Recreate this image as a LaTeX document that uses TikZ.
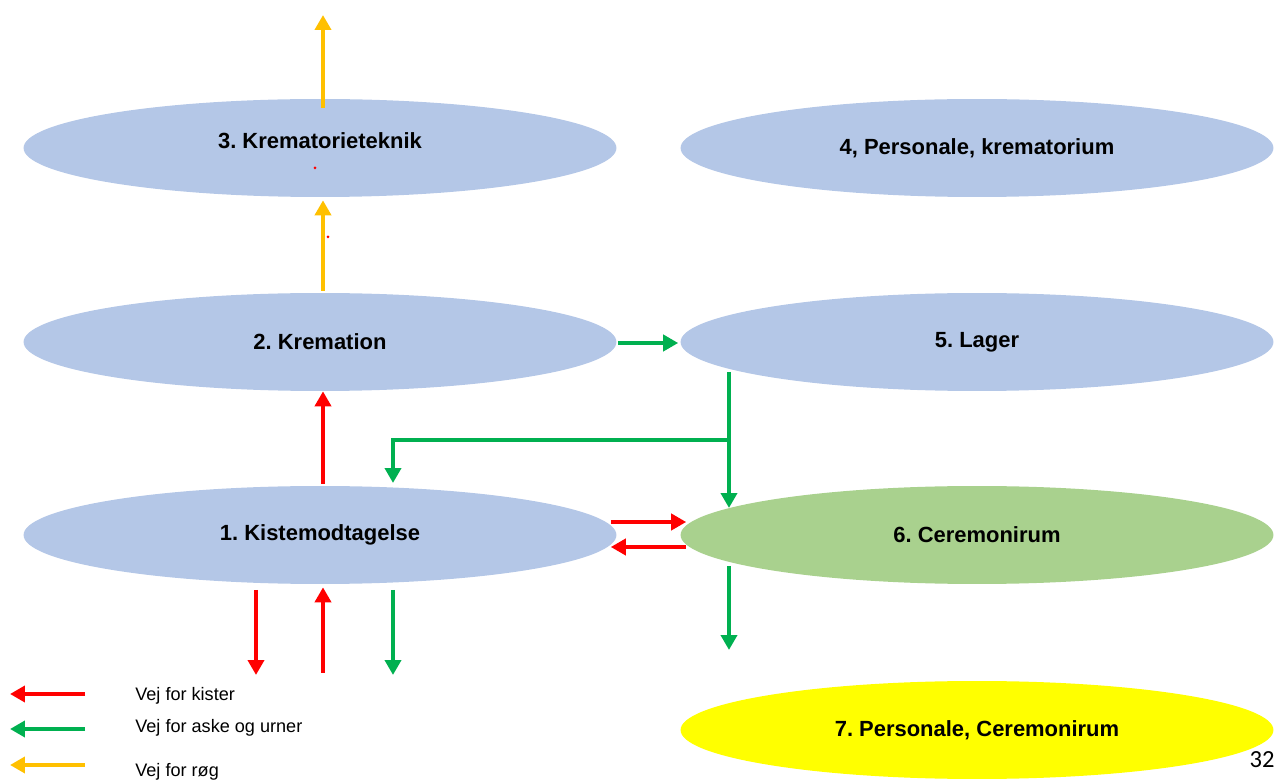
\documentclass[tikz,border=0pt]{standalone}
\usepackage{fontspec}
\setmainfont{Liberation Sans}
\setsansfont{Liberation Sans}
\newfontfamily\pagefont{Carlito}
\usetikzlibrary{arrows.meta,calc,shapes.geometric}
\definecolor{ovBlue}{HTML}{B4C7E7}
\definecolor{ovGreen}{HTML}{A9D18E}
\definecolor{ovYellow}{HTML}{FFFF00}
\definecolor{arRed}{HTML}{FF0000}
\definecolor{arGreen}{HTML}{00B050}
\definecolor{arOrange}{HTML}{FFC000}
\frenchspacing

\begin{document}
\begin{tikzpicture}[x=0.02cm, y=-0.02cm, font=\sffamily,
  room/.style={ellipse, fill=ovBlue, minimum width=11.86cm, minimum height=1.96cm, inner sep=0pt, align=center, font=\sffamily\fontsize{12.5}{14}\selectfont\bfseries},
  path/.style={line width=2.3pt, -{Triangle[length=0.3cm, width=0.32cm]}},
  kister/.style={path, arRed},
  urner/.style={path, arGreen},
  roeg/.style={path, arOrange},
  legtxt/.style={anchor=west, font=\sffamily\fontsize{10.3}{12}\selectfont, inner sep=0pt},
]
\useasboundingbox (0,0) rectangle (1279,780);
% ---- rooms ----
\node[room] (teknik) at (320,148) {3. Krematorieteknik\\[-5pt]\mbox{}};
\node[room] (personale) at (977,148) {4, Personale, krematorium};
\node[room] (kremation) at (320,342) {2. Kremation};
\node[room] (lager) at (977,342) {5. Lager};
\node[room] (kiste) at (320,535) {1. Kistemodtagelse};
\node[room, fill=ovGreen] (ceremoni) at (977,535) {6. Ceremonirum};
\node[room, fill=ovYellow] (cerpers) at (977,730) {7. Personale, Ceremonirum};
% stray dots
\fill[arRed] (315,168) circle (1.5);
\fill[arRed] (328,237) circle (1.5);
% ---- smoke ----
\coordinate (chimney) at (323,15);
\draw[roeg] ($(teknik.north)+(3,9)$) -- (chimney);
\draw[roeg] ($(kremation.north)+(3,-2)$) -- ($(teknik.south)+(3,3)$);
% ---- coffins ----
\draw[kister] ($(kiste.north)+(3,-2)$) -- ($(kremation.south)+(3,0)$);
\draw[kister] ($(kiste.east)+(-6,-13)$) -- ($(ceremoni.west)+(6,-13)$);
\draw[kister] ($(ceremoni.west)+(6,12)$) -- ($(kiste.east)+(-6,12)$);
\coordinate (kout) at (256,675);
\coordinate (kin) at (323,673);
\draw[kister] ($(kiste.center)+(-64,55)$) -- (kout);
\draw[kister] (kin) -- ($(kiste.south)+(3,3)$);
% ---- ashes and urns ----
\draw[urner] ($(kremation.east)+(1,1)$) -- ($(lager.west)+(-2,1)$);
\coordinate (split) at ($(lager.center)+(-248,98)$);
\draw[urner] ($(lager.center)+(-248,30)$) -- ($(ceremoni.center)+(-248,-27)$);
\draw[urner] (split) -| ($(kiste.center)+(73,-52)$);
\coordinate (uout) at (393,675);
\draw[urner] ($(kiste.center)+(73,55)$) -- (uout);
\coordinate (cout) at (729,650);
\draw[urner] ($(ceremoni.center)+(-248,31)$) -- (cout);
% ---- legend ----
\foreach \y/\sty/\lab/\ty in {694/kister/{Vej for kister}/696, 729/urner/{Vej for aske og urner}/728, 765/roeg/{Vej for r\o g}/772}{
  \coordinate (ls\y) at (85,\y);
  \coordinate (le\y) at (10,\y);
  \draw[\sty] (ls\y) -- (le\y);
  \node[legtxt] (lt\y) at (135,\ty) {\lab};
}
\node[font=\pagefont\fontsize{14}{14}\selectfont] (pagenr) at (1262,760) {32};
\end{tikzpicture}
\end{document}
